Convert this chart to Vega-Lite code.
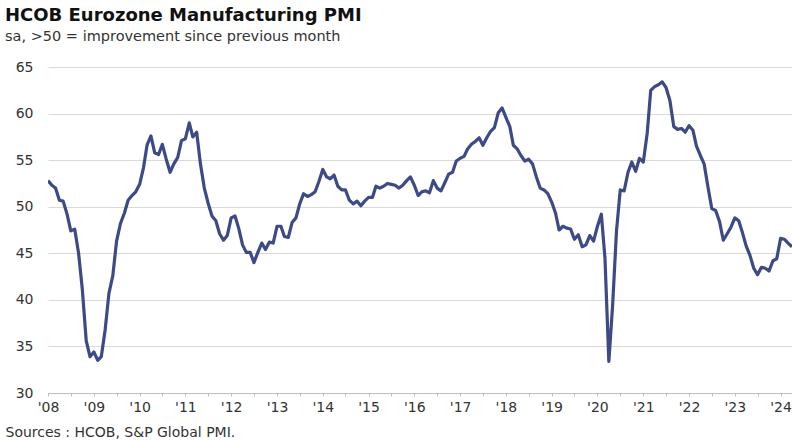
{
  "$schema": "https://vega.github.io/schema/vega-lite/v6.json",
  "width": 744,
  "height": 326,
  "autosize": {"type": "none"},
  "padding": {"left": 48, "top": 67, "right": 0, "bottom": 47},
  "title": {
    "text": "HCOB Eurozone Manufacturing PMI",
    "subtitle": "sa, >50 = improvement  since previous month",
    "anchor": "start",
    "frame": "group",
    "dx": -43,
    "offset": 17,
    "font": "DejaVu Sans",
    "fontSize": 18,
    "fontWeight": "bold",
    "color": "#111111",
    "subtitleFont": "DejaVu Sans",
    "subtitleFontSize": 14.5,
    "subtitleColor": "#333333",
    "subtitlePadding": 5
  },
  "data": {
    "values": [
      {"d": "2008-01-01", "v": 52.8}, {"d": "2008-02-01", "v": 52.3}, {"d": "2008-03-01", "v": 52.0}, {"d": "2008-04-01", "v": 50.7},
      {"d": "2008-05-01", "v": 50.6}, {"d": "2008-06-01", "v": 49.2}, {"d": "2008-07-01", "v": 47.4}, {"d": "2008-08-01", "v": 47.6},
      {"d": "2008-09-01", "v": 45.0}, {"d": "2008-10-01", "v": 41.1}, {"d": "2008-11-01", "v": 35.6}, {"d": "2008-12-01", "v": 33.9},
      {"d": "2009-01-01", "v": 34.4}, {"d": "2009-02-01", "v": 33.5}, {"d": "2009-03-01", "v": 33.9}, {"d": "2009-04-01", "v": 36.8},
      {"d": "2009-05-01", "v": 40.7}, {"d": "2009-06-01", "v": 42.6}, {"d": "2009-07-01", "v": 46.3}, {"d": "2009-08-01", "v": 48.2},
      {"d": "2009-09-01", "v": 49.3}, {"d": "2009-10-01", "v": 50.7}, {"d": "2009-11-01", "v": 51.2}, {"d": "2009-12-01", "v": 51.6},
      {"d": "2010-01-01", "v": 52.4}, {"d": "2010-02-01", "v": 54.2}, {"d": "2010-03-01", "v": 56.6}, {"d": "2010-04-01", "v": 57.6},
      {"d": "2010-05-01", "v": 55.8}, {"d": "2010-06-01", "v": 55.6}, {"d": "2010-07-01", "v": 56.7}, {"d": "2010-08-01", "v": 55.1},
      {"d": "2010-09-01", "v": 53.7}, {"d": "2010-10-01", "v": 54.6}, {"d": "2010-11-01", "v": 55.3}, {"d": "2010-12-01", "v": 57.1},
      {"d": "2011-01-01", "v": 57.3}, {"d": "2011-02-01", "v": 59.0}, {"d": "2011-03-01", "v": 57.5}, {"d": "2011-04-01", "v": 58.0},
      {"d": "2011-05-01", "v": 54.6}, {"d": "2011-06-01", "v": 52.0}, {"d": "2011-07-01", "v": 50.4}, {"d": "2011-08-01", "v": 49.0},
      {"d": "2011-09-01", "v": 48.5}, {"d": "2011-10-01", "v": 47.1}, {"d": "2011-11-01", "v": 46.4}, {"d": "2011-12-01", "v": 46.9},
      {"d": "2012-01-01", "v": 48.8}, {"d": "2012-02-01", "v": 49.0}, {"d": "2012-03-01", "v": 47.7}, {"d": "2012-04-01", "v": 45.9},
      {"d": "2012-05-01", "v": 45.1}, {"d": "2012-06-01", "v": 45.1}, {"d": "2012-07-01", "v": 44.0}, {"d": "2012-08-01", "v": 45.1},
      {"d": "2012-09-01", "v": 46.1}, {"d": "2012-10-01", "v": 45.4}, {"d": "2012-11-01", "v": 46.2}, {"d": "2012-12-01", "v": 46.1},
      {"d": "2013-01-01", "v": 47.9}, {"d": "2013-02-01", "v": 47.9}, {"d": "2013-03-01", "v": 46.8}, {"d": "2013-04-01", "v": 46.7},
      {"d": "2013-05-01", "v": 48.3}, {"d": "2013-06-01", "v": 48.8}, {"d": "2013-07-01", "v": 50.3}, {"d": "2013-08-01", "v": 51.4},
      {"d": "2013-09-01", "v": 51.1}, {"d": "2013-10-01", "v": 51.3}, {"d": "2013-11-01", "v": 51.6}, {"d": "2013-12-01", "v": 52.7},
      {"d": "2014-01-01", "v": 54.0}, {"d": "2014-02-01", "v": 53.2}, {"d": "2014-03-01", "v": 53.0}, {"d": "2014-04-01", "v": 53.4},
      {"d": "2014-05-01", "v": 52.2}, {"d": "2014-06-01", "v": 51.8}, {"d": "2014-07-01", "v": 51.8}, {"d": "2014-08-01", "v": 50.7},
      {"d": "2014-09-01", "v": 50.3}, {"d": "2014-10-01", "v": 50.6}, {"d": "2014-11-01", "v": 50.1}, {"d": "2014-12-01", "v": 50.6},
      {"d": "2015-01-01", "v": 51.0}, {"d": "2015-02-01", "v": 51.0}, {"d": "2015-03-01", "v": 52.2}, {"d": "2015-04-01", "v": 52.0},
      {"d": "2015-05-01", "v": 52.2}, {"d": "2015-06-01", "v": 52.5}, {"d": "2015-07-01", "v": 52.4}, {"d": "2015-08-01", "v": 52.3},
      {"d": "2015-09-01", "v": 52.0}, {"d": "2015-10-01", "v": 52.3}, {"d": "2015-11-01", "v": 52.8}, {"d": "2015-12-01", "v": 53.2},
      {"d": "2016-01-01", "v": 52.3}, {"d": "2016-02-01", "v": 51.2}, {"d": "2016-03-01", "v": 51.6}, {"d": "2016-04-01", "v": 51.7},
      {"d": "2016-05-01", "v": 51.5}, {"d": "2016-06-01", "v": 52.8}, {"d": "2016-07-01", "v": 52.0}, {"d": "2016-08-01", "v": 51.7},
      {"d": "2016-09-01", "v": 52.6}, {"d": "2016-10-01", "v": 53.5}, {"d": "2016-11-01", "v": 53.7}, {"d": "2016-12-01", "v": 54.9},
      {"d": "2017-01-01", "v": 55.2}, {"d": "2017-02-01", "v": 55.4}, {"d": "2017-03-01", "v": 56.2}, {"d": "2017-04-01", "v": 56.7},
      {"d": "2017-05-01", "v": 57.0}, {"d": "2017-06-01", "v": 57.4}, {"d": "2017-07-01", "v": 56.6}, {"d": "2017-08-01", "v": 57.4},
      {"d": "2017-09-01", "v": 58.1}, {"d": "2017-10-01", "v": 58.5}, {"d": "2017-11-01", "v": 60.1}, {"d": "2017-12-01", "v": 60.6},
      {"d": "2018-01-01", "v": 59.6}, {"d": "2018-02-01", "v": 58.6}, {"d": "2018-03-01", "v": 56.6}, {"d": "2018-04-01", "v": 56.2},
      {"d": "2018-05-01", "v": 55.5}, {"d": "2018-06-01", "v": 54.9}, {"d": "2018-07-01", "v": 55.1}, {"d": "2018-08-01", "v": 54.6},
      {"d": "2018-09-01", "v": 53.2}, {"d": "2018-10-01", "v": 52.0}, {"d": "2018-11-01", "v": 51.8}, {"d": "2018-12-01", "v": 51.4},
      {"d": "2019-01-01", "v": 50.5}, {"d": "2019-02-01", "v": 49.3}, {"d": "2019-03-01", "v": 47.5}, {"d": "2019-04-01", "v": 47.9},
      {"d": "2019-05-01", "v": 47.7}, {"d": "2019-06-01", "v": 47.6}, {"d": "2019-07-01", "v": 46.5}, {"d": "2019-08-01", "v": 47.0},
      {"d": "2019-09-01", "v": 45.7}, {"d": "2019-10-01", "v": 45.9}, {"d": "2019-11-01", "v": 46.9}, {"d": "2019-12-01", "v": 46.3},
      {"d": "2020-01-01", "v": 47.9}, {"d": "2020-02-01", "v": 49.2}, {"d": "2020-03-01", "v": 44.5}, {"d": "2020-04-01", "v": 33.4},
      {"d": "2020-05-01", "v": 39.4}, {"d": "2020-06-01", "v": 47.4}, {"d": "2020-07-01", "v": 51.8}, {"d": "2020-08-01", "v": 51.7},
      {"d": "2020-09-01", "v": 53.7}, {"d": "2020-10-01", "v": 54.8}, {"d": "2020-11-01", "v": 53.8}, {"d": "2020-12-01", "v": 55.2},
      {"d": "2021-01-01", "v": 54.8}, {"d": "2021-02-01", "v": 57.9}, {"d": "2021-03-01", "v": 62.5}, {"d": "2021-04-01", "v": 62.9},
      {"d": "2021-05-01", "v": 63.1}, {"d": "2021-06-01", "v": 63.4}, {"d": "2021-07-01", "v": 62.8}, {"d": "2021-08-01", "v": 61.4},
      {"d": "2021-09-01", "v": 58.6}, {"d": "2021-10-01", "v": 58.3}, {"d": "2021-11-01", "v": 58.4}, {"d": "2021-12-01", "v": 58.0},
      {"d": "2022-01-01", "v": 58.7}, {"d": "2022-02-01", "v": 58.2}, {"d": "2022-03-01", "v": 56.5}, {"d": "2022-04-01", "v": 55.5},
      {"d": "2022-05-01", "v": 54.6}, {"d": "2022-06-01", "v": 52.1}, {"d": "2022-07-01", "v": 49.8}, {"d": "2022-08-01", "v": 49.6},
      {"d": "2022-09-01", "v": 48.4}, {"d": "2022-10-01", "v": 46.4}, {"d": "2022-11-01", "v": 47.1}, {"d": "2022-12-01", "v": 47.8},
      {"d": "2023-01-01", "v": 48.8}, {"d": "2023-02-01", "v": 48.5}, {"d": "2023-03-01", "v": 47.3}, {"d": "2023-04-01", "v": 45.8},
      {"d": "2023-05-01", "v": 44.8}, {"d": "2023-06-01", "v": 43.4}, {"d": "2023-07-01", "v": 42.7}, {"d": "2023-08-01", "v": 43.5},
      {"d": "2023-09-01", "v": 43.4}, {"d": "2023-10-01", "v": 43.1}, {"d": "2023-11-01", "v": 44.2}, {"d": "2023-12-01", "v": 44.4},
      {"d": "2024-01-01", "v": 46.6}, {"d": "2024-02-01", "v": 46.5}, {"d": "2024-03-01", "v": 46.1}, {"d": "2024-04-01", "v": 45.7}
    ]
  },
  "mark": {"type": "line", "color": "#3d4a85", "strokeWidth": 3.2, "strokeJoin": "round", "clip": true},
  "encoding": {
    "x": {
      "field": "d",
      "type": "temporal",
      "scale": {"type": "utc", "domain": [{"year": 2008, "month": 1, "date": 1, "utc": true}, {"year": 2024, "month": 4, "date": 1, "utc": true}]},
      "axis": {
        "title": "Sources : HCOB, S&P Global PMI.",
        "titleFont": "DejaVu Sans",
        "titleFontSize": 14,
        "titleFontWeight": "normal",
        "titleColor": "#333333",
        "titleAnchor": "start",
        "titleAlign": "left",
        "titleBaseline": "alphabetic",
        "titleX": -43,
        "titleY": 43,
        "tickCount": {"interval": "month", "step": 6},
        "labelExpr": "utcmonth(datum.value) == 0 ? utcFormat(datum.value, \"'%y\") : ''",
        "labelFont": "DejaVu Sans",
        "labelFontSize": 14,
        "labelColor": "#333333",
        "labelPadding": 4,
        "labelOverlap": false,
        "labelFlush": false,
        "grid": false,
        "domainColor": "#bfbfbf",
        "tickColor": "#bfbfbf",
        "tickSize": 3
      }
    },
    "y": {
      "field": "v",
      "type": "quantitative",
      "scale": {"domain": [30, 65], "nice": false, "zero": false},
      "axis": {
        "title": null,
        "values": [30, 35, 40, 45, 50, 55, 60, 65],
        "labelFont": "DejaVu Sans",
        "labelFontSize": 14,
        "labelColor": "#333333",
        "labelPadding": 15,
        "domain": false,
        "ticks": false,
        "grid": true,
        "gridColor": "#d9d9d9",
        "gridWidth": 1.2
      }
    }
  },
  "config": {"view": {"stroke": null}}
}
